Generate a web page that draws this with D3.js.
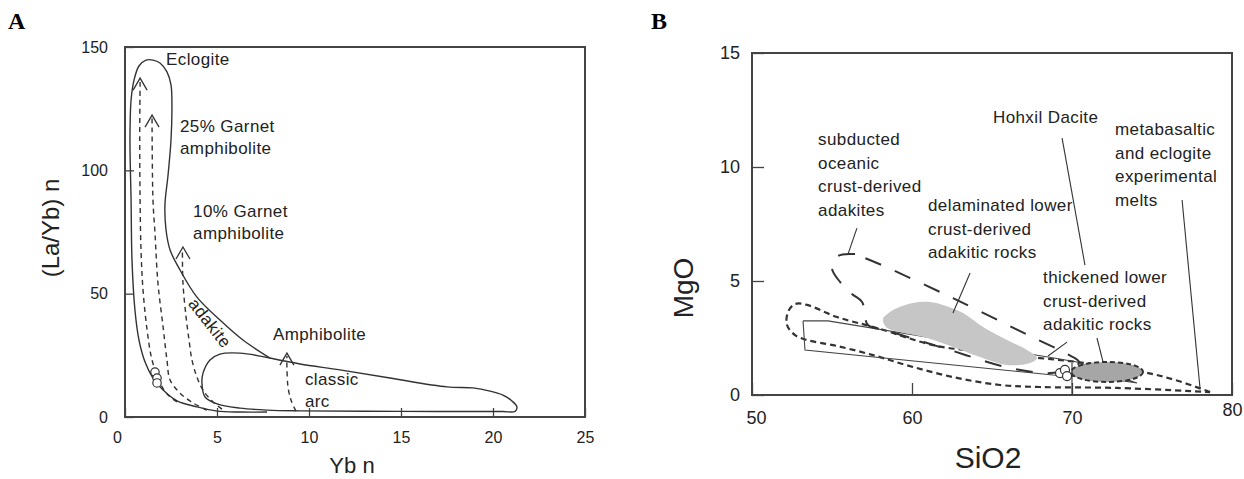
<!DOCTYPE html>
<html>
<head>
<meta charset="utf-8">
<script src="https://cdn.jsdelivr.net/npm/d3@7"></script>
<style>
	body { margin: 0; background: #fff; }
	svg text { font-family: "Liberation Sans", Arial, Helvetica, sans-serif; fill: #222; }
	.panel-letter { font-family: "Liberation Serif", "Times New Roman", serif !important; font-weight: bold; font-size: 24px; fill: #000 !important; }
	.frame { fill: none; stroke: #444; stroke-width: 2; }
	.field { fill: none; stroke: #333; stroke-width: 1.4; }
	.trend { fill: none; stroke: #333; stroke-width: 1.4; stroke-dasharray: 5 4; }
	.arrow { fill: none; stroke: #333; stroke-width: 1.3; }
	.sample { fill: #fff; stroke: #333; stroke-width: 1.2; }
	.note { font-size: 17px; letter-spacing: 0.4px; }
	.leader { stroke: #333; stroke-width: 1.1; }
</style>
</head>
<body>
<svg id="chart" width="1244" height="479"></svg>
<script>
// ---- panel A : (La/Yb)n vs Ybn ----
var xTicksA = [0, 5, 10, 15, 20, 25];
var yTicksA = [0, 50, 100, 150];

// adakite envelope, open path from the bottom round the top and down to the arc field
var adakiteEnvelope = [[7.72, 2.0], [6.25, 2.0], [5.0, 2.4], [3.91, 4.1], [2.83, 6.5], [2.07, 10.9], [1.52, 15.8],
	[1.09, 22.3], [0.76, 31.2], [0.54, 43.4], [0.38, 63.6], [0.33, 88.0], [0.27, 112.3], [0.33, 128.5],
	[0.49, 136.6], [0.76, 142.3], [1.14, 144.7], [1.52, 144.7], [1.90, 143.5], [2.28, 139.9], [2.50, 134.6],
	[2.55, 126.5], [2.50, 112.3], [2.34, 98.1], [2.17, 85.9], [2.23, 75.8], [2.45, 67.7], [2.99, 59.6],
	[3.91, 48.6], [5.16, 39.3], [6.41, 31.2], [7.88, 23.9]];

// classic arc field (closed)
var arcField = [[7.88, 23.9], [9.51, 21.5], [11.68, 19.1], [14.40, 15.8], [17.5, 12.2], [18.91, 11.8],
	[19.84, 10.5], [20.54, 8.9], [21.03, 6.5], [21.30, 4.1], [21.20, 2.3], [20.5, 2.2], [15.0, 2.3],
	[9.5, 2.5], [7.72, 2.8], [6.25, 3.6], [5.0, 5.3], [4.35, 8.1], [4.18, 13.8], [4.24, 17.8],
	[4.62, 23.1], [5.16, 25.5], [6.25, 25.9], [7.88, 23.9]];

// melting trends, bottom to arrow tip
var eclogiteTrend = [[2.83, 6.1], [2.34, 8.9], [1.90, 13.8], [1.47, 23.1], [1.20, 35.3], [0.98, 51.5],
	[0.87, 67.7], [0.82, 88.0], [0.80, 112.3], [0.82, 136.0]];
var garnet25Trend = [[4.46, 2.8], [3.70, 5.7], [2.99, 9.7], [2.45, 15.0], [2.28, 23.1], [2.07, 36.5],
	[1.79, 54.3], [1.63, 74.6], [1.52, 88.0], [1.47, 121.0]];
var garnet10Trend = [[5.27, 3.2], [4.78, 6.1], [4.24, 10.9], [3.91, 16.2], [3.64, 23.1], [3.48, 31.2],
	[3.32, 40.5], [3.15, 54.3], [3.12, 67.5]];
var amphTrend = [[9.29, 2.4], [9.02, 6.9], [8.86, 12.2], [8.80, 20.3], [8.80, 24.7]];
var trendsA = [eclogiteTrend, garnet25Trend, garnet10Trend, amphTrend];
var arrowTipsA = [[0.82, 137.4], [1.47, 122.4], [3.15, 68.9], [8.80, 25.9]];

var samplesA = [[1.63, 18.2], [1.74, 15.8], [1.74, 13.8]];

var labelsA = [
	{lines: ['Eclogite'], x: 2.23, y: 142.7},
	{lines: ['25% Garnet', 'amphibolite'], x: 2.99, y: 115.5},
	{lines: ['10% Garnet', 'amphibolite'], x: 3.70, y: 81.1},
	{lines: ['Amphibolite'], x: 8.04, y: 31.2},
	{lines: ['classic', 'arc'], x: 9.78, y: 13.0}
];
var adakiteLabel = {text: 'adakite', x: 4.62, y: 38.1, angle: 52};

// ---- panel B : MgO vs SiO2 ----
var xTicksB = [50, 60, 70, 80];
var yTicksB = [0, 5, 10, 15];

var subductedField = [[56.44, 6.18], [55.38, 6.10], [55.0, 5.57], [55.5, 4.96], [56.25, 4.43], [56.88, 4.08],
	[57.25, 3.07], [58.31, 2.85], [62.38, 1.97], [66.13, 1.18], [68.63, 0.96], [70.0, 1.14], [70.44, 1.45],
	[69.69, 1.80], [67.25, 2.63], [62.56, 4.25], [57.81, 5.79], [56.44, 6.18]];

var delaminatedField = [[58.19, 3.38], [58.81, 3.73], [60.06, 4.04], [61.13, 4.08], [61.94, 3.95],
	[63.19, 3.60], [64.44, 2.98], [65.94, 2.41], [67.19, 1.97], [67.81, 1.62], [67.38, 1.40], [65.94, 1.32],
	[64.25, 1.67], [62.56, 2.11], [60.94, 2.50], [59.25, 2.76], [58.44, 2.94], [58.19, 3.20]];

var thickenedField = [[53.19, 3.25], [54.75, 3.25], [68.5, 1.67], [70.31, 1.45], [74.06, 0.53],
	[72.38, 0.70], [68.81, 0.88], [53.31, 1.97], [53.19, 3.25]];

var meltsField = [[78.63, 0.13], [76.44, 0.66], [74.44, 1.01], [70.31, 1.45], [68.0, 1.62], [65.5, 1.84],
	[61.56, 2.15], [57.81, 2.94], [55.31, 3.42], [53.44, 3.95], [52.69, 3.99], [52.25, 3.64], [52.19, 3.07],
	[52.69, 2.63], [53.44, 2.41], [55.31, 2.15], [57.56, 1.75], [60.06, 1.23], [62.81, 0.75], [65.5, 0.44],
	[68.0, 0.35], [72.81, 0.31], [78.63, 0.13]];

var hohxilField = {cx: 72.19, cy: 1.01, rx: 2.25, ry: 0.44};
var samplesB = [[69.25, 0.96], [69.56, 1.10], [69.69, 0.83]];

var leadersB = [
	[[56.56, 7.32], [56.0, 6.18]],
	[[63.63, 5.35], [62.56, 3.60]],
	[[69.38, 11.27], [70.81, 5.70]],
	[[71.56, 2.50], [71.94, 1.45]],
	[[69.69, 2.32], [68.5, 1.71]],
	[[76.88, 8.55], [78.0, 0.31]],
	[[70.0, 0], [70.0, 1.4]]
];

var labelsB = [
	{lines: ['subducted', 'oceanic', 'crust-derived', 'adakites'], x: 54.13, y: 10.96},
	{lines: ['delaminated lower', 'crust-derived', 'adakitic rocks'], x: 61.0, y: 8.07},
	{lines: ['Hohxil Dacite'], x: 65.06, y: 11.93},
	{lines: ['metabasaltic', 'and eclogite', 'experimental', 'melts'], x: 72.69, y: 11.40},
	{lines: ['thickened lower', 'crust-derived', 'adakitic rocks'], x: 68.19, y: 4.91}
];

var svg = d3.select('#chart');

function drawAxes(g, x, y, xTicks, yTicks, opts) {
	var xa = g.append('g')
		.attr('transform', 'translate(0,' + y.range()[0] + ')')
		.style('font-size', opts.fontSize + 'px')
		.attr('color', '#444')
		.call(d3.axisBottom(x).tickValues(xTicks).tickSize(-opts.tickLen).tickPadding(opts.xPad));
	xa.select('.domain').remove();
	xa.selectAll('line').attr('stroke-width', 1.3);

	var ya = g.append('g')
		.attr('transform', 'translate(' + x.range()[0] + ',0)')
		.style('font-size', opts.fontSize + 'px')
		.attr('color', '#444')
		.call(d3.axisLeft(y).tickValues(yTicks).tickSize(-opts.tickLen).tickPadding(opts.yPad));
	ya.select('.domain').remove();
	ya.selectAll('line').attr('stroke-width', 1.3);

	g.append('rect').attr('class', 'frame')
		.attr('x', x.range()[0]).attr('y', y.range()[1])
		.attr('width', x.range()[1] - x.range()[0])
		.attr('height', y.range()[0] - y.range()[1]);
	return {xa: xa, ya: ya};
}

function drawLabels(g, x, y, labels, gap) {
	labels.forEach(function(d) {
		var t = g.append('text').attr('class', 'note').attr('x', x(d.x)).attr('y', y(d.y));
		d.lines.forEach(function(line, i) {
			t.append('tspan').attr('x', x(d.x)).attr('dy', i === 0 ? 0 : gap).text(line);
		});
	});
}

function drawPanelA() {
	var x = d3.scaleLinear().domain([0, 25]).range([125, 585]);
	var y = d3.scaleLinear().domain([0, 150]).range([417, 47]);
	var g = svg.append('g').attr('class', 'panel-a');

	var axes = drawAxes(g, x, y, xTicksA, yTicksA, {fontSize: 16, tickLen: 9, xPad: 15, yPad: 17});
	// the reference prints its x "0" a little left of the corner
	axes.xa.selectAll('.tick text').filter(function(d) { return d === 0; }).attr('dx', -8);

	var smooth = d3.line().x(function(d) { return x(d[0]); }).y(function(d) { return y(d[1]); })
		.curve(d3.curveCatmullRom.alpha(0.5));

	g.append('path').attr('class', 'field').attr('d', smooth(adakiteEnvelope));
	g.append('path').attr('class', 'field').attr('d', smooth(arcField));

	g.selectAll('path.trend').data(trendsA).enter()
		.append('path').attr('class', 'trend').attr('d', smooth);

	g.selectAll('path.arrow').data(arrowTipsA).enter()
		.append('path').attr('class', 'arrow')
		.attr('d', function(d) {
			var tx = x(d[0]), ty = y(d[1]);
			return 'M' + (tx - 7) + ',' + (ty + 12) + 'L' + tx + ',' + ty + 'L' + (tx + 7) + ',' + (ty + 12);
		});

	g.selectAll('circle.sample').data(samplesA).enter()
		.append('circle').attr('class', 'sample')
		.attr('cx', function(d) { return x(d[0]); })
		.attr('cy', function(d) { return y(d[1]); })
		.attr('r', 4.2);

	drawLabels(g, x, y, labelsA, 22);

	g.append('text').attr('class', 'note')
		.attr('text-anchor', 'middle').attr('dy', '0.35em')
		.attr('transform', 'translate(' + x(adakiteLabel.x) + ',' + y(adakiteLabel.y) + ') rotate(' + adakiteLabel.angle + ')')
		.text(adakiteLabel.text);

	g.append('text').attr('x', 352).attr('y', 473).attr('text-anchor', 'middle')
		.style('font-size', '22px').text('Yb n');
	g.append('text').attr('text-anchor', 'middle')
		.attr('transform', 'translate(59,228) rotate(-90)')
		.style('font-size', '24px').text('(La/Yb) n');
	g.append('text').attr('class', 'panel-letter').attr('x', 8).attr('y', 29).text('A');
}

function drawPanelB() {
	var x = d3.scaleLinear().domain([50, 80]).range([752, 1232]);
	var y = d3.scaleLinear().domain([0, 15]).range([395, 53]);
	var g = svg.append('g').attr('class', 'panel-b');

	var axes = drawAxes(g, x, y, xTicksB, yTicksB, {fontSize: 18, tickLen: 12, xPad: 16, yPad: 12});
	axes.xa.selectAll('.tick text').filter(function(d) { return d === 80; }).attr('dy', '0.3em');
	axes.xa.selectAll('.tick text').filter(function(d) { return d === 50; }).attr('dx', 4);

	var smooth = d3.line().x(function(d) { return x(d[0]); }).y(function(d) { return y(d[1]); })
		.curve(d3.curveCatmullRom.alpha(0.5));
	var straight = d3.line().x(function(d) { return x(d[0]); }).y(function(d) { return y(d[1]); });

	g.append('path').attr('d', smooth(meltsField))
		.attr('fill', 'none').attr('stroke', '#333').attr('stroke-width', 2.2).attr('stroke-dasharray', '6 4');
	g.append('path').attr('d', straight(thickenedField))
		.attr('fill', 'none').attr('stroke', '#444').attr('stroke-width', 1.1);
	g.append('path').attr('d', smooth(subductedField))
		.attr('fill', 'none').attr('stroke', '#333').attr('stroke-width', 2).attr('stroke-dasharray', '17 15');
	g.append('path').attr('d', smooth(delaminatedField) + 'Z')
		.attr('fill', '#c6c6c6').attr('stroke', 'none');

	g.append('ellipse')
		.attr('cx', x(hohxilField.cx)).attr('cy', y(hohxilField.cy))
		.attr('rx', x(hohxilField.cx + hohxilField.rx) - x(hohxilField.cx))
		.attr('ry', y(0) - y(hohxilField.ry))
		.attr('fill', '#a6a6a6').attr('stroke', '#333').attr('stroke-width', 2).attr('stroke-dasharray', '5 3');

	g.selectAll('path.leader').data(leadersB).enter()
		.append('path').attr('class', 'leader').attr('d', straight);

	g.selectAll('circle.sample').data(samplesB).enter()
		.append('circle').attr('class', 'sample')
		.attr('cx', function(d) { return x(d[0]); })
		.attr('cy', function(d) { return y(d[1]); })
		.attr('r', 4.5);

	drawLabels(g, x, y, labelsB, 23.5);

	g.append('text').attr('x', 988).attr('y', 468).attr('text-anchor', 'middle')
		.style('font-size', '30px').text('SiO2');
	g.append('text').attr('text-anchor', 'middle')
		.attr('transform', 'translate(693,288) rotate(-90)')
		.style('font-size', '28px').text('MgO');
	g.append('text').attr('class', 'panel-letter').attr('x', 651).attr('y', 29).text('B');
}

drawPanelA();
drawPanelB();
</script>
</body>
</html>
